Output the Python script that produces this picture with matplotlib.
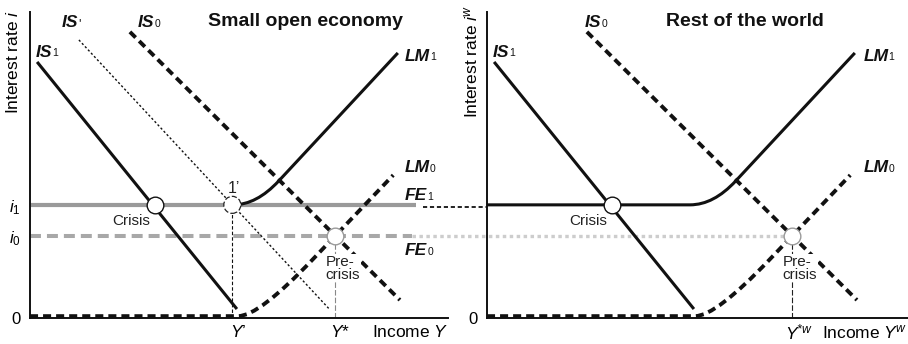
import numpy as np
import matplotlib
matplotlib.use('Agg')
import matplotlib.pyplot as plt
from matplotlib.path import Path
from matplotlib.patches import PathPatch

plt.rcParams['font.family'] = ['Liberation Sans', 'DejaVu Sans']
plt.rcParams['mathtext.fontset'] = 'custom'
plt.rcParams['mathtext.it'] = 'Liberation Sans:italic'
plt.rcParams['mathtext.rm'] = 'Liberation Sans'
plt.rcParams['mathtext.sf'] = 'Liberation Sans:italic'
plt.rcParams['mathtext.bf'] = 'Liberation Sans:bold'
plt.rcParams['lines.scale_dashes'] = False

# ---------------- data ----------------
i1 = 3.65          # crisis interest rate (FE1)
i0 = 2.65          # pre-crisis interest rate (FE0)
is1_x = [0.17, 4.95]
is1_y = [8.26, 0.29]
isp_x = [1.17, 7.18]     # IS'
isp_y = [8.97, 0.26]
is0_x = [2.39, 8.85]
is0_y = [9.23, 0.58]
# LM curves: flat start, end of flat, kink (control), tangent point, end
lm1_x = [0.0, 4.86, 5.42, 5.95, 8.80]
lm1_y = [3.65, 3.65, 3.65, 4.42, 8.55]
lm0_x = [0.0, 4.98, 5.47, 6.75, 8.69]
lm0_y = [0.06, 0.06, 0.06, 1.87, 4.61]
crisis_x = 3.0
one_prime_x = 4.84
precrisis_x = 7.30
fe1_end = 9.23
fe0_end = 9.14

W, H = 908, 344
PX_X = 41.8   # pixels per x unit
PX_Y = 31.0   # pixels per y unit

fig = plt.figure(figsize=(W / 100, H / 100), dpi=100)


def make_ax(x0, w):
    ax = fig.add_axes([x0 / W, (H - 318) / H, w / W, 306 / H])
    ax.set_xlim(0, w / PX_X)
    ax.set_ylim(0, 306 / PX_Y)
    for s in ('top', 'right'):
        ax.spines[s].set_visible(False)
    for s in ('left', 'bottom'):
        ax.spines[s].set_linewidth(1.4)
        ax.spines[s].set_color('#111111')
    ax.tick_params(length=0, labelsize=12, pad=7)
    ax.set_xticks([])
    ax.set_facecolor('none')
    return ax


axL = make_ax(30, 418)
axR = make_ax(487, 421)

HEAVY_DASH = (0, (5.8, 3.6))


def lm_path(ax, xs, ys, start_flat=True, **kw):
    if start_flat:
        verts = list(zip(xs, ys))
        codes = [Path.MOVETO, Path.LINETO, Path.CURVE3, Path.CURVE3, Path.LINETO]
    else:
        verts = list(zip(xs[1:], ys[1:]))
        codes = [Path.MOVETO, Path.CURVE3, Path.CURVE3, Path.LINETO]
    p = PathPatch(Path(verts, codes), fill=False, **kw)
    ax.add_patch(p)
    return p


def curve_label(ax, x, y, main, sub=None, sup=None):
    t = ax.text(x, y, main, fontsize=12.5, fontweight='bold', fontstyle='italic',
                ha='left', va='center', color='#111111', clip_on=False)
    if sub is not None:
        ax.annotate(sub, xy=(1, 0), xycoords=t, xytext=(0.0, 2.2),
                    textcoords='offset points', fontsize=7.5, ha='left',
                    va='baseline', color='#111111', annotation_clip=False)
    if sup is not None:
        ax.annotate(sup, xy=(1, 1), xycoords=t, xytext=(0.0, -2.0),
                    textcoords='offset points', fontsize=9, ha='left',
                    va='top', color='#111111', annotation_clip=False)
    return t


for ax, left in ((axL, True), (axR, False)):
    # IS curves
    ax.plot(is1_x, is1_y, color='#111111', lw=2.2, solid_capstyle='butt', zorder=4)
    ax.plot(is0_x, is0_y, color='#111111', lw=2.8, linestyle=HEAVY_DASH, zorder=4)
    # LM curves
    lm_path(ax, lm0_x, lm0_y, True, edgecolor='#111111', lw=2.8,
            linestyle=HEAVY_DASH, zorder=4)
    lm_path(ax, lm1_x, lm1_y, not left, edgecolor='#111111', lw=2.2, zorder=4)

    # labels
    curve_label(ax, 0.14, 8.58, 'IS', sub='1')
    curve_label(ax, 2.58 if left else 2.34, 9.52, 'IS', sub='0')
    curve_label(ax, 8.97 if left else 9.0, 8.45, 'LM', sub='1')
    curve_label(ax, 8.97 if left else 9.0, 4.84, 'LM', sub='0')

    # crisis point
    ax.plot([crisis_x], [i1], marker='o', ms=12, mfc='white', mec='#111111',
            mew=1.0, zorder=6)
    ax.text(1.97, 3.12, 'Crisis', fontsize=11, ha='left', va='center',
            color='#222222', zorder=6)
    # pre-crisis point
    ax.plot([precrisis_x], [i0], marker='o', ms=12, mfc='white', mec='#9a9a9a',
            mew=1.0, zorder=6)
    ax.plot([precrisis_x, precrisis_x], [0, i0],
            color='#888888' if left else '#222222', lw=0.8,
            linestyle=(0, (4, 1.5)), zorder=2)
    ax.text(7.07, 1.61, 'Pre-\ncrisis', fontsize=11, ha='left', va='center',
            linespacing=0.9, color='#222222', zorder=5,
            bbox=dict(facecolor='white', edgecolor='none', pad=0.5))

# ----- left panel extras -----
axL.plot(isp_x, isp_y, color='#111111', lw=1.0, linestyle=(0, (1.6, 1.6)), zorder=3)
curve_label(axL, 0.77, 9.52, 'IS', sup="'")
axL.plot([0, fe1_end], [i1, i1], color='#9a9a9a', lw=3.0, solid_capstyle='butt', zorder=2)
axL.plot([0, fe0_end], [i0, i0], color='#a8a8a8', lw=2.9,
         linestyle=(0, (7.9, 4.3)), zorder=2)
curve_label(axL, 8.97, 3.94, 'FE', sub='1')
curve_label(axL, 8.97, 2.19, 'FE', sub='0')
# connecting dotted line at i1 between panels
axL.plot([9.40, (487 - 30) / PX_X], [i1 - 0.08, i1 - 0.08], color='#111111', lw=1.3,
         linestyle=(0, (3, 2)), clip_on=False, zorder=2)
# 1' point
axL.scatter([one_prime_x], [i1], s=150, facecolor='white', edgecolor='#222222',
            linewidths=0.9, linestyles='--', zorder=6)
axL.text(one_prime_x + 0.04, 4.18, '1’', fontsize=11.5, ha='center', va='center',
         color='#222222')
axL.plot([one_prime_x, one_prime_x], [0, i1], color='#111111', lw=0.8,
         linestyle=(0, (2.5, 1.5)), zorder=2)
axL.text(6.58, 9.58, 'Small open economy', fontsize=14, fontweight='bold',
         ha='center', va='center', color='#111111')

axL.set_yticks([0, i0, i1])
axL.set_yticklabels(['0', r'$i_0$', r'$i_1$'])
axL.text(4.78, -0.45, r'$\mathsf{Y}$’', fontsize=12.5, ha='left', va='center',
         clip_on=False)
axL.text(7.18, -0.45, r'$\mathsf{Y}$*', fontsize=12.5, ha='left', va='center',
         clip_on=False)
axL.text(8.18, -0.45, r'Income $\mathsf{Y}$', fontsize=12.5, ha='left', va='center',
         clip_on=False)
axL.text(-17 / 418, 0.837, r'Interest rate $\mathsf{i}$', fontsize=12.5, rotation=90,
         ha='center', va='center', transform=axL.transAxes)

# ----- right panel extras -----
axR.plot([(412 - 487) / PX_X, precrisis_x], [i0, i0], color='#cdcdcd', lw=2.4,
         linestyle=(0, (2.5, 2.5)), clip_on=False, zorder=1)
axR.text(6.17, 9.58, 'Rest of the world', fontsize=14, fontweight='bold',
         ha='center', va='center', color='#111111')
axR.set_yticks([0])
axR.set_yticklabels(['0'])
axR.text(7.13, -0.45, r'$\mathsf{Y}^{\mathsf{*w}}$', fontsize=12.5, ha='left',
         va='center', clip_on=False)
axR.text(8.01, -0.45, r'Income $\mathsf{Y}^{\mathsf{w}}$', fontsize=12.5, ha='left',
         va='center', clip_on=False)
axR.text(-16 / 421, 0.837, r'Interest rate $\mathsf{i}^{\mathsf{w}}$', fontsize=12.5,
         rotation=90, ha='center', va='center', transform=axR.transAxes)

fig.savefig('out.png', dpi=100, facecolor='white')
